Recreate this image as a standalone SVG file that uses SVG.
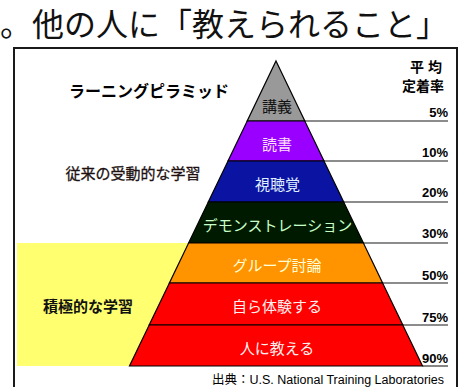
<svg xmlns="http://www.w3.org/2000/svg" width="463" height="387" viewBox="0 0 463 387">
<defs>
<style>
.jp{font-family:"Noto Sans CJK JP","Noto Sans",sans-serif;}
.lvl{stroke:#000;stroke-width:1.2;}
.lbl{font-size:15px;text-anchor:middle;}
.pct{font-family:"Liberation Sans",Arial,sans-serif;font-weight:bold;font-size:13px;text-anchor:end;fill:#000;}
.rule{stroke:#666;stroke-width:1.6;}
</style>
</defs>
<rect width="463" height="387" fill="#fff"/>
<text class="jp" x="0" y="36" font-size="32" fill="#111">。他の人に「教えられること」</text>
<g id="frame">
<path d="M14,400 V48 H457 V400" fill="none" stroke="#1a1a1a" stroke-width="2"/>
</g>
<g id="active-zone">
<polygon points="17,243 188.6,243 129.5,366 17,366" fill="#ffff70"/>
<text class="jp" x="88" y="312" font-size="15" font-weight="bold" text-anchor="middle" fill="#111">積極的な学習</text>
</g>
<g id="passive-label">
<text class="jp" x="133" y="179" font-size="15" text-anchor="middle" fill="#201010" stroke="#201010" stroke-width="0.3">従来の受動的な学習</text>
</g>
<g id="title">
<text class="jp" x="149" y="97" font-size="16" font-weight="bold" text-anchor="middle" fill="#000">ラーニングピラミッド</text>
</g>
<g id="rate-header" class="jp" font-weight="bold" fill="#000">
<text x="410" y="72" font-size="14" letter-spacing="4">平均</text>
<text x="444" y="91" font-size="14" text-anchor="end">定着率</text>
</g>
<g id="connectors">
<line class="rule" x1="304.8" y1="121" x2="448" y2="121"/>
<line class="rule" x1="324" y1="161" x2="448" y2="161"/>
<line class="rule" x1="343.7" y1="202" x2="448" y2="202"/>
<line class="rule" x1="363.4" y1="243" x2="448" y2="243"/>
<line class="rule" x1="382.6" y1="283" x2="448" y2="283"/>
<line class="rule" x1="402.8" y1="325" x2="448" y2="325"/>
<line class="rule" x1="422.5" y1="366" x2="448" y2="366"/>
</g>
<g id="lecture">
<polygon class="lvl" points="276,61 304.8,121 247.2,121" fill="#999999"/>
<text class="jp lbl" x="277" y="112" fill="#111">講義</text>
<text class="pct" x="448" y="117">5%</text>
</g>
<g id="reading">
<polygon class="lvl" points="247.2,121 304.8,121 324,161 228,161" fill="#9900ff"/>
<text class="jp lbl" x="277" y="150" fill="#ffe0ff">読書</text>
<text class="pct" x="448" y="157">10%</text>
</g>
<g id="audiovisual">
<polygon class="lvl" points="228,161 324,161 343.7,202 208.3,202" fill="#0b14a2"/>
<text class="jp lbl" x="277.5" y="190" fill="#e0f0ff">視聴覚</text>
<text class="pct" x="448" y="197">20%</text>
</g>
<g id="demonstration">
<polygon class="lvl" points="208.3,202 343.7,202 363.4,243 188.6,243" fill="#001a00"/>
<text class="jp lbl" x="277.5" y="231" font-size="13" fill="#c8ffc8">デモンストレーション</text>
<text class="pct" x="448" y="238">30%</text>
</g>
<g id="group-discussion">
<polygon class="lvl" points="188.6,243 363.4,243 382.6,283 169.4,283" fill="#ff9400"/>
<text class="jp lbl" x="277" y="271" fill="#ffffd8">グループ討論</text>
<text class="pct" x="448" y="280">50%</text>
</g>
<g id="experience">
<polygon class="lvl" points="169.4,283 382.6,283 402.8,325 149.2,325" fill="#ff0000"/>
<text class="jp lbl" x="277" y="312" fill="#fff0f0">自ら体験する</text>
<text class="pct" x="448" y="322">75%</text>
</g>
<g id="teaching">
<polygon class="lvl" points="149.2,325 402.8,325 422.5,366 129.5,366" fill="#ff0000"/>
<text class="jp lbl" x="277" y="354" fill="#fff0f0">人に教える</text>
<text class="pct" x="448" y="363">90%</text>
</g>
<g id="source">
<text x="212" y="384" font-size="12.5" fill="#000"><tspan class="jp">出典：</tspan><tspan font-family="Liberation Sans, Arial, sans-serif">U.S. National Training Laboratories</tspan></text>
</g>
</svg>
